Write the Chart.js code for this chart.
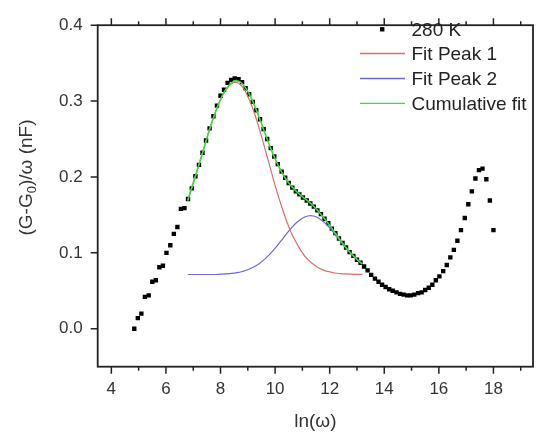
<!DOCTYPE html>
<html>
<head>
<meta charset="utf-8">
<script src="https://cdn.jsdelivr.net/npm/chart.js@4.4.0/dist/chart.umd.min.js"></script>
<style>
  html, body { margin: 0; padding: 0; background: #fff; }
  #wrap { width: 537px; height: 439px; }
</style>
</head>
<body>
<div id="wrap"><canvas id="dielChart" width="537" height="439"></canvas></div>
<script>
// measured points, 280 K
const lnW = [4.84, 4.97, 5.10, 5.23, 5.37, 5.50, 5.63, 5.76, 5.89, 6.02,
    6.16, 6.29, 6.42, 6.55, 6.68, 6.81, 6.95, 7.08, 7.21, 7.34,
    7.47, 7.60, 7.74, 7.87, 8.00, 8.13, 8.26, 8.39, 8.52, 8.66,
    8.79, 8.92, 9.05, 9.18, 9.31, 9.45, 9.58, 9.71, 9.84, 9.97,
    10.10, 10.24, 10.37, 10.50, 10.63, 10.76, 10.89, 11.02, 11.16, 11.29,
    11.42, 11.55, 11.68, 11.81, 11.95, 12.08, 12.21, 12.34, 12.47, 12.60,
    12.73, 12.87, 13.00, 13.13, 13.26, 13.39, 13.52, 13.66, 13.79, 13.92,
    14.05, 14.18, 14.31, 14.45, 14.58, 14.71, 14.84, 14.97, 15.10, 15.24,
    15.37, 15.50, 15.63, 15.76, 15.89, 16.02, 16.16, 16.29, 16.42, 16.55,
    16.68, 16.81, 16.95, 17.08, 17.21, 17.34, 17.47, 17.60, 17.74, 17.87,
    18.00];
const dG = [0.000, 0.014, 0.020, 0.042, 0.044, 0.062, 0.064, 0.081, 0.083, 0.100,
    0.110, 0.125, 0.134, 0.158, 0.159, 0.171, 0.185, 0.201, 0.216, 0.232,
    0.248, 0.264, 0.280, 0.294, 0.307, 0.315, 0.324, 0.328, 0.330, 0.329,
    0.325, 0.317, 0.309, 0.299, 0.288, 0.276, 0.263, 0.250, 0.238, 0.227,
    0.217, 0.207, 0.199, 0.192, 0.186, 0.181, 0.177, 0.173, 0.169, 0.165,
    0.161, 0.156, 0.151, 0.145, 0.139, 0.132, 0.126, 0.119, 0.113, 0.107,
    0.101, 0.096, 0.091, 0.087, 0.082, 0.077, 0.071, 0.066, 0.062, 0.058,
    0.055, 0.052, 0.050, 0.048, 0.046, 0.045, 0.044, 0.044, 0.045, 0.047,
    0.048, 0.051, 0.054, 0.058, 0.064, 0.069, 0.076, 0.084, 0.094, 0.104,
    0.116, 0.130, 0.146, 0.164, 0.181, 0.198, 0.209, 0.211, 0.197, 0.169,
    0.130];

// fit curves
const fitX = [6.8, 7.0, 7.2, 7.4, 7.6, 7.8, 8.0, 8.2, 8.4, 8.6, 8.8,
    9.0, 9.2, 9.4, 9.6, 9.8, 10.0, 10.2, 10.4, 10.6, 10.8,
    11.0, 11.2, 11.4, 11.6, 11.8, 12.0, 12.2, 12.4, 12.6, 12.8, 13.0, 13.2];
const peak1 = [0.169, 0.192, 0.215, 0.239, 0.263, 0.284, 0.302, 0.315, 0.323, 0.3245, 0.319,
    0.3065, 0.2885, 0.266, 0.241, 0.215, 0.189, 0.1655, 0.144, 0.126, 0.112,
    0.100, 0.091, 0.085, 0.080, 0.077, 0.075, 0.0735, 0.0727, 0.0722, 0.0719, 0.0717, 0.0716];
const peak2 = [0.0715, 0.0715, 0.0715, 0.0715, 0.0715, 0.0715, 0.0719, 0.0723, 0.0729, 0.0739, 0.0755,
    0.0777, 0.0810, 0.0854, 0.0911, 0.0980, 0.1062, 0.1151, 0.1242, 0.1329, 0.1403,
    0.1457, 0.1486, 0.1486, 0.1457, 0.1403, 0.1329, 0.1242, 0.1151, 0.1062, 0.0980, 0.0911, 0.0854];
const cumFit = [0.169, 0.192, 0.215, 0.239, 0.263, 0.284, 0.3024, 0.3158, 0.3241, 0.3269, 0.3228,
    0.3127, 0.298, 0.280, 0.2605, 0.2413, 0.224, 0.2091, 0.1971, 0.1878, 0.1804,
    0.1742, 0.1683, 0.1618, 0.1543, 0.1457, 0.1362, 0.1262, 0.1163, 0.1069, 0.0984, 0.0913, 0.0855];

const xTicks = [4, 6, 8, 10, 12, 14, 16, 18];
const xMinor = [5, 7, 9, 11, 13, 15, 17, 19];
const yTicks = [0.0, 0.1, 0.2, 0.3, 0.4];

const FONT = "'Liberation Sans', Arial, sans-serif";
const pts = (xs, ys) => xs.map((x, i) => ({ x: x, y: ys[i] }));

// frame box + outward ticks
const framePlugin = {
    id: 'frame',
    afterDraw(chart) {
        const ctx = chart.ctx, a = chart.chartArea;
        const sx = chart.scales.x, sy = chart.scales.y;
        ctx.save();
        ctx.strokeStyle = '#222';
        ctx.lineWidth = 1.8;
        ctx.strokeRect(a.left, a.top, a.right - a.left, a.bottom - a.top);
        ctx.lineWidth = 1.5;
        ctx.beginPath();
        xTicks.forEach(v => {
            const px = sx.getPixelForValue(v);
            ctx.moveTo(px, a.bottom); ctx.lineTo(px, a.bottom + 7);
            ctx.moveTo(px, a.top); ctx.lineTo(px, a.top - 7);
        });
        xMinor.forEach(v => {
            const px = sx.getPixelForValue(v);
            ctx.moveTo(px, a.bottom); ctx.lineTo(px, a.bottom + 4);
            ctx.moveTo(px, a.top); ctx.lineTo(px, a.top - 4);
        });
        yTicks.forEach(v => {
            const py = sy.getPixelForValue(v);
            ctx.moveTo(a.left, py); ctx.lineTo(a.left - 7, py);
        });
        ctx.stroke();

        // y axis title with real subscript
        ctx.translate(27, 177.5);
        ctx.rotate(-Math.PI / 2);
        ctx.fillStyle = '#333';
        ctx.textBaseline = 'middle';
        const big = '19px ' + FONT, small = '13px ' + FONT;
        const parts = [['(G-G', big, 0], ['0', small, 5], [')/\u03c9 (nF)', big, 0]];
        let total = 0;
        parts.forEach(p => { ctx.font = p[1]; total += ctx.measureText(p[0]).width; });
        let x = -total / 2;
        parts.forEach(p => {
            ctx.font = p[1];
            ctx.fillText(p[0], x, p[2]);
            x += ctx.measureText(p[0]).width;
        });
        ctx.restore();
    }
};

// legend in the top right corner
const legendPlugin = {
    id: 'cornerLegend',
    afterDraw(chart) {
        const ctx = chart.ctx;
        const rows = [29.3, 53.5, 78.5, 103.3];
        ctx.save();
        ctx.font = '19px ' + FONT;
        ctx.textBaseline = 'middle';
        chart.data.datasets.forEach((ds, i) => {
            const y = rows[i];
            if (ds.showLine) {
                ctx.strokeStyle = ds.borderColor;
                ctx.lineWidth = 1.3;
                ctx.beginPath();
                ctx.moveTo(360, y); ctx.lineTo(405, y);
                ctx.stroke();
            } else {
                ctx.fillStyle = ds.pointBackgroundColor;
                ctx.fillRect(380, y - 2.2, 4.4, 4.4);
            }
            ctx.fillStyle = '#222';
            ctx.fillText(ds.label, 411.5, y + 1);
        });
        ctx.restore();
    }
};

const ctxDiel = document.getElementById('dielChart').getContext('2d');
new Chart(ctxDiel, {
    type: 'scatter',
    data: {
        datasets: [{
            label: '280 K',
            data: pts(lnW, dG),
            pointStyle: 'rect',
            pointRadius: 3.1,
            pointBorderWidth: 0,
            pointBackgroundColor: '#000',
            showLine: false,
            order: 3
        }, {
            label: 'Fit Peak 1',
            data: pts(fitX, peak1),
            showLine: true,
            borderColor: '#e06a6a',
            borderWidth: 1.2,
            pointRadius: 0,
            tension: 0.4,
            order: 2
        }, {
            label: 'Fit Peak 2',
            data: pts(fitX, peak2),
            showLine: true,
            borderColor: '#6a6ad8',
            borderWidth: 1.2,
            pointRadius: 0,
            tension: 0.4,
            order: 2
        }, {
            label: 'Cumulative fit',
            data: pts(fitX, cumFit),
            showLine: true,
            borderColor: '#3cdc3c',
            borderWidth: 1.6,
            pointRadius: 0,
            tension: 0.4,
            order: 1
        }]
    },
    options: {
        responsive: false,
        animation: false,
        devicePixelRatio: 1,
        layout: { padding: { top: 12.5, right: 1.5, left: 0, bottom: 0 } },
        plugins: {
            legend: { display: false },
            tooltip: { enabled: false }
        },
        scales: {
            x: {
                type: 'linear',
                min: 3.5,
                max: 19.45,
                afterFit: s => { s.height = 72.3; },
                afterBuildTicks: s => { s.ticks = xTicks.map(v => ({ value: v })); },
                grid: { display: false, drawTicks: false },
                border: { display: false },
                ticks: { padding: 12, color: '#333', font: { family: FONT, size: 17 }, maxRotation: 0, autoSkip: false },
                title: { display: true, text: 'ln(\u03c9)', color: '#333', font: { family: FONT, size: 19 }, padding: { top: 0, bottom: 6 } }
            },
            y: {
                min: -0.05,
                max: 0.4,
                afterFit: s => { s.width = 97.7; },
                afterBuildTicks: s => { s.ticks = yTicks.map(v => ({ value: v })); },
                grid: { display: false, drawTicks: false },
                border: { display: false },
                ticks: { padding: 15, color: '#333', font: { family: FONT, size: 17 }, callback: v => v.toFixed(1) }
            }
        }
    },
    plugins: [framePlugin, legendPlugin]
});
</script>
</body>
</html>
